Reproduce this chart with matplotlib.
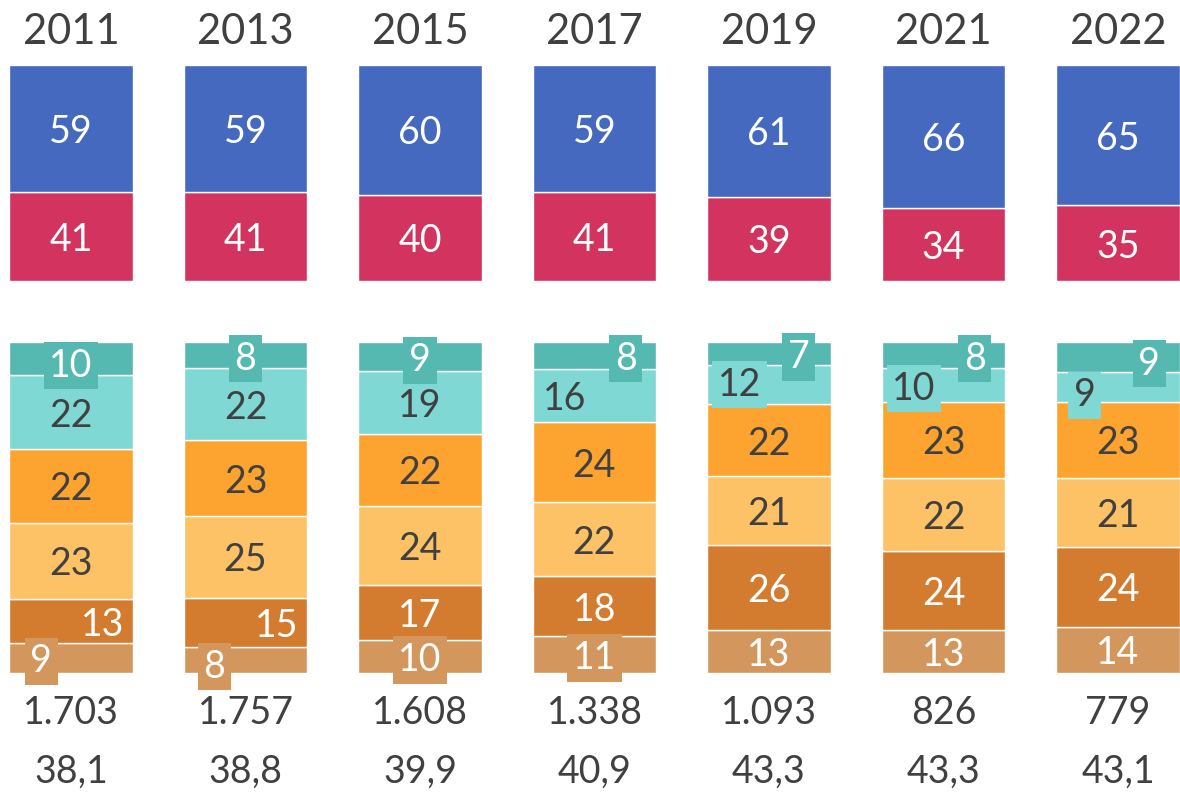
import matplotlib
matplotlib.use("Agg")
import matplotlib.pyplot as plt
import numpy as np

plt.rcParams['font.family'] = ['Lato', 'DejaVu Sans']

years = ["2011", "2013", "2015", "2017", "2019", "2021", "2022"]

# top bar: share (top to bottom)
top_blue = [59, 59, 60, 59, 61, 66, 65]
top_red = [41, 41, 40, 41, 39, 34, 35]

# bottom bar, segments listed from top to bottom
seg_teal = [10, 8, 9, 8, 7, 8, 9]
seg_lteal = [22, 22, 19, 16, 12, 10, 9]
seg_orange = [22, 23, 22, 24, 22, 23, 23]
seg_lorange = [23, 25, 24, 22, 21, 22, 21]
seg_dorange = [13, 15, 17, 18, 26, 24, 24]
seg_tan = [9, 8, 10, 11, 13, 13, 14]

counts = ["1.703", "1.757", "1.608", "1.338", "1.093", "826", "779"]
ages = ["38,1", "38,8", "39,9", "40,9", "43,3", "43,3", "43,1"]

DARK = "#404040"
BLUE, RED = "#4469be", "#d3335f"
bottom_segs = [  # drawn bottom -> top
    (seg_tan, "#d3975d", "white"),
    (seg_dorange, "#d37b2f", "white"),
    (seg_lorange, "#fdc166", DARK),
    (seg_orange, "#fda32f", DARK),
    (seg_lteal, "#80d8d4", DARK),
    (seg_teal, "#55b8b1", "white"),
]
# label x offsets (in bar units) for the thin segments: (segment index, column) -> dx
label_dx = {
    (0, 0): -0.17, (1, 0): 0.18, (0, 1): -0.18, (1, 1): 0.18,
    (5, 3): 0.18, (4, 3): -0.17,
    (5, 4): 0.17, (4, 4): -0.17,
    (5, 5): 0.18, (4, 5): -0.17,
    (5, 6): 0.18, (4, 6): -0.19,
}
label_dy = {(5, 0): -1, (4, 6): -1.5, (5, 6): -1, (4, 4): 1, (0, 1): -1}
# labels that sit on a colored box because they spill out of their segment
boxed = {(0, 0), (0, 1), (0, 2), (0, 3), (4, 4), (4, 5), (4, 6)} | {(5, i) for i in range(7)}

W, H = 1180, 796
fig = plt.figure(figsize=(W / 100, H / 100), dpi=100)
x = np.arange(len(years))
xl = (-71 / 174.5, (W - 71) / 174.5)
bw = 0.705
FS = 27


def make_ax(ytop, ybot):
    ax = fig.add_axes([0, 1 - ybot / H, 1, (ybot - ytop) / H])
    ax.set_xlim(*xl)
    ax.set_ylim(0, 100)
    ax.axis("off")
    return ax


ax1 = make_ax(65, 281)
ax1.bar(x, top_red, bw, color=RED, edgecolor="white", linewidth=1)
ax1.bar(x, top_blue, bw, bottom=top_red, color=BLUE, edgecolor="white", linewidth=1)
for i in x:
    ax1.text(i, top_red[i] / 2, str(top_red[i]), ha="center", va="center_baseline",
             color="white", fontsize=FS)
    ax1.text(i, top_red[i] + top_blue[i] / 2, str(top_blue[i]), ha="center",
             va="center_baseline", color="white", fontsize=FS)

ax2 = make_ax(342, 673)
totals = np.sum([s[0] for s in bottom_segs], axis=0)
base = np.zeros(len(years))
for k, (vals, col, tcol) in enumerate(bottom_segs):
    h = np.array(vals) / totals * 100
    ax2.bar(x, h, bw, bottom=base, color=col, edgecolor="white", linewidth=1)
    for i in x:
        dx = label_dx.get((k, i), 0)
        dy = label_dy.get((k, i), 0)
        box = dict(boxstyle="square,pad=0.15", fc=col, ec="none") if (k, i) in boxed else None
        ax2.text(i + dx, base[i] + h[i] / 2 + dy, str(vals[i]), ha="center",
                 va="center_baseline", color=tcol, fontsize=FS, bbox=box, zorder=5)
    base += h

for i in x:
    xf = (71 + 174.5 * i) / W
    fig.text(xf, 1 - 28 / H, years[i], ha="center", va="center_baseline", color=DARK, fontsize=30)
    fig.text(xf, 1 - 710 / H, counts[i], ha="center", va="center_baseline", color=DARK, fontsize=FS)
    fig.text(xf, 1 - 768 / H, ages[i], ha="center", va="center_baseline", color=DARK, fontsize=FS)

fig.savefig("out.png", dpi=100, facecolor="white")
